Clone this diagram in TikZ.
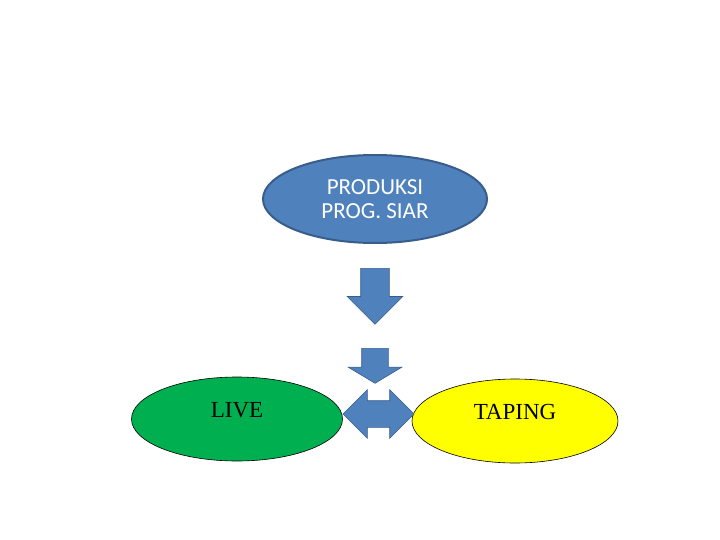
\documentclass[tikz,border=0pt]{standalone}
\usepackage{fontspec}
\newfontfamily\calfont{Carlito}
\newfontfamily\timesfont{Liberation Serif}
\usetikzlibrary{shapes.geometric, shapes.arrows}
\definecolor{slideblue}{HTML}{4F81BD}
\definecolor{blueline}{HTML}{385D8A}
\definecolor{livegreen}{HTML}{00B050}
\definecolor{tapeyellow}{HTML}{FFFF00}

\begin{document}
\begin{tikzpicture}[x=1pt, y=-1pt,
    topoval/.style={ellipse, draw=blueline, line width=2pt, fill=slideblue,
      inner sep=0pt, minimum width=224pt, minimum height=88pt, align=center,
      text=white, font=\calfont\fontsize{23}{24}\selectfont},
    modeoval/.style={ellipse, draw=black, line width=0.6pt, inner sep=0pt,
      minimum height=84pt, text height=16pt, text depth=20pt,
      font=\timesfont\fontsize{23}{24}\selectfont},
    downarr/.style={single arrow, draw=blueline, line width=0.6pt, fill=slideblue,
      inner xsep=0pt, rotate=-90, anchor=tail},
    botharr/.style={double arrow, draw=blueline, line width=0.6pt, fill=slideblue,
      inner xsep=0pt, double arrow head extend=11pt, inner ysep=13pt,
      minimum height=71pt}
  ]
  \useasboundingbox (0,0) rectangle (720,540);

  \node[topoval] (prod) at (375,199) {PRODUKSI\\PROG. SIAR};

  \node[downarr, inner ysep=14pt, single arrow head extend=13.5pt,
    minimum height=56pt] (down1) at (375,268) {};
  \node[downarr, inner ysep=13pt, single arrow head extend=13.5pt,
    single arrow tip angle=118, minimum height=35pt] (down2) at (375,348) {};

  \node[modeoval, fill=livegreen, minimum width=211pt] (live) at (237,419) {LIVE};
  \node[modeoval, fill=tapeyellow, minimum width=206pt] (taping) at (515,421) {TAPING};

  \node[botharr] (choice) at (378.5,414) {};
\end{tikzpicture}
\end{document}
